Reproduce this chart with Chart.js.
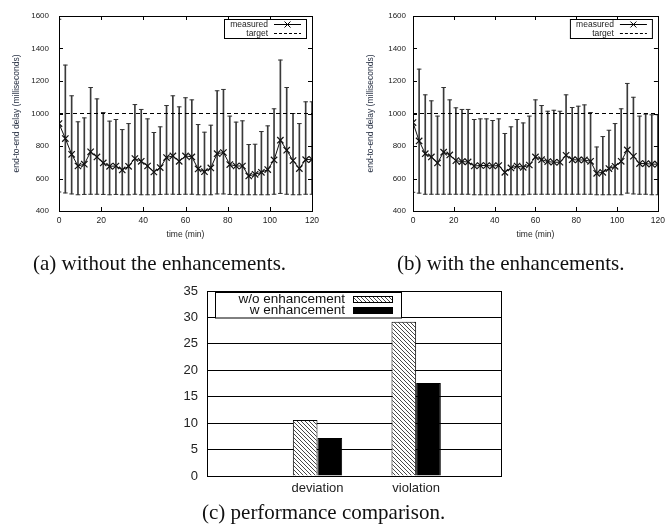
<!DOCTYPE html>
<html>
<head>
<meta charset="utf-8">
<script src="https://cdn.jsdelivr.net/npm/chart.js@4.4.1/dist/chart.umd.min.js"></script>
<style>
  html, body { margin: 0; padding: 0; background: #fff; }
  body { width: 670px; height: 529px; position: relative; overflow: hidden; }
  canvas { position: absolute; }
  .cap { position: absolute; font-family: "Liberation Serif", "Times New Roman", serif; font-size: 21px; color: #111; white-space: nowrap; line-height: 24px; }
</style>
</head>
<body>
<canvas id="chartA" width="330" height="245" style="left:0;top:0"></canvas>
<canvas id="chartB" width="335" height="245" style="left:335px;top:0"></canvas>
<canvas id="chartC" width="370" height="232" style="left:150px;top:270px"></canvas>
<div class="cap" style="left:33px;top:251px">(a) without the enhancements.</div>
<div class="cap" style="left:397px;top:251px">(b) with the enhancements.</div>
<div class="cap" style="left:202px;top:500px">(c) performance comparison.</div>
<script>
// time axis (minutes) shared by (a) and (b)
const timeMin = [0, 3, 6, 9, 12, 15, 18, 21, 24, 27, 30, 33, 36, 39, 42, 45, 48, 51, 54, 57,
  60, 63, 66, 69, 72, 75, 78, 81, 84, 87, 90, 93, 96, 99, 102, 105, 108, 111, 114, 117, 120];

// (a) without the enhancements - mean and error range (ms)
const measuredA = [938, 846, 749, 677, 688, 764, 733, 696, 675, 677, 653, 675, 723, 706, 677, 640, 667, 729, 739, 706,
  739, 733, 659, 642, 665, 753, 760, 686, 677, 677, 616, 626, 638, 655, 714, 836, 774, 710, 661, 716, 718];
const upperA = [1580, 1298, 1109, 949, 973, 1160, 1090, 1006, 953, 963, 901, 938, 1055, 1025, 967, 883, 918, 1049, 1109, 1041,
  1097, 1084, 932, 885, 928, 1140, 1148, 984, 947, 955, 809, 811, 889, 924, 1029, 1329, 1160, 1000, 938, 1072, 1072];
const lowerA = [517, 511, 505, 500, 502, 503, 503, 502, 500, 502, 500, 500, 503, 500, 500, 500, 502, 503, 503, 502,
  503, 503, 500, 500, 500, 505, 505, 502, 500, 500, 500, 500, 500, 500, 503, 508, 503, 500, 500, 503, 503];

// (b) with the enhancements
const measuredB = [944, 831, 753, 733, 696, 762, 745, 710, 704, 702, 677, 680, 680, 677, 680, 638, 665, 677, 669, 683,
  733, 716, 704, 700, 700, 743, 716, 714, 714, 706, 632, 638, 661, 675, 706, 776, 737, 692, 692, 688, 688];
const upperB = [1600, 1273, 1115, 1078, 984, 1160, 1084, 1035, 1025, 1025, 963, 967, 967, 957, 967, 877, 918, 963, 942, 984,
  1084, 1049, 1014, 1020, 1014, 1115, 1037, 1045, 1053, 1006, 794, 858, 897, 938, 1029, 1185, 1100, 984, 996, 992, 992];
const lowerB = [515, 510, 503, 503, 503, 503, 503, 503, 503, 503, 500, 500, 500, 500, 500, 500, 500, 500, 500, 503,
  503, 503, 503, 503, 503, 503, 503, 503, 503, 503, 500, 500, 500, 500, 500, 510, 505, 503, 503, 500, 500];

const targetDelay = 1000;

// (c) performance comparison
const metrics = ['deviation', 'violation'];
const woEnhancement = [10.6, 29.2];
const wEnhancement = [7.2, 17.6];

const sans = '"Liberation Sans", Arial, sans-serif';

// gnuplot-like box with inward ticks on all four sides
const gnuFrame = {
  id: 'gnuFrame',
  afterDatasetsDraw(chart, args, opts) {
    const { ctx, chartArea: a } = chart;
    ctx.save();
    ctx.strokeStyle = '#000';
    ctx.lineWidth = 1;
    ctx.strokeRect(Math.round(a.left) + 0.5, Math.round(a.top) + 0.5, Math.round(a.right - a.left), Math.round(a.bottom - a.top));
    if (opts.ticks) {
      const t = 4;
      const x = chart.scales.x, y = chart.scales.y;
      ctx.beginPath();
      x.ticks.forEach(tk => {
        const px = Math.round(x.getPixelForValue(tk.value)) + 0.5;
        ctx.moveTo(px, a.bottom); ctx.lineTo(px, a.bottom - t);
        ctx.moveTo(px, a.top); ctx.lineTo(px, a.top + t);
      });
      y.ticks.forEach(tk => {
        const py = Math.round(y.getPixelForValue(tk.value)) + 0.5;
        ctx.moveTo(a.left, py); ctx.lineTo(a.left + t, py);
        ctx.moveTo(a.right, py); ctx.lineTo(a.right - t, py);
      });
      ctx.stroke();
    }
    ctx.restore();
  }
};

// key box in the top-right corner for (a) and (b)
const delayKey = {
  id: 'delayKey',
  afterDraw(chart) {
    const { ctx, chartArea: a } = chart;
    const r = a.right, t = a.top;
    ctx.save();
    ctx.fillStyle = '#fff';
    ctx.fillRect(r - 88, t + 3, 82, 19);
    ctx.strokeStyle = '#000';
    ctx.lineWidth = 1;
    ctx.strokeRect(r - 88 + 0.5, t + 3 + 0.5, 82, 19);
    ctx.fillStyle = '#222';
    ctx.font = '8.5px ' + sans;
    ctx.textAlign = 'right';
    ctx.textBaseline = 'middle';
    ctx.fillText('measured', r - 44, t + 8.5);
    ctx.fillText('target', r - 44, t + 17.5);
    ctx.beginPath();
    ctx.moveTo(r - 38, t + 8.5); ctx.lineTo(r - 11, t + 8.5);
    const cx = r - 24.5, cy = t + 8.5;
    ctx.moveTo(cx - 3, cy - 3); ctx.lineTo(cx + 3, cy + 3);
    ctx.moveTo(cx - 3, cy + 3); ctx.lineTo(cx + 3, cy - 3);
    ctx.stroke();
    ctx.setLineDash([3, 2]);
    ctx.beginPath();
    ctx.moveTo(r - 38, t + 17.5); ctx.lineTo(r - 11, t + 17.5);
    ctx.stroke();
    ctx.restore();
  }
};

function delayChart(id, measured, upper, lower, yw, tickPad, titlePad) {
  const pts = arr => timeMin.map((tm, i) => ({ x: tm, y: arr[i] }));
  return new Chart(document.getElementById(id), {
    type: 'line',
    data: {
      datasets: [
        {
          type: 'bar',
          data: timeMin.map((tm, i) => ({ x: tm, y: [lower[i], upper[i]] })),
          backgroundColor: '#3a3a3a',
          barThickness: 1,
          order: 4
        },
        {
          data: pts(upper), showLine: false, pointStyle: 'line', pointRadius: 2.3,
          pointBorderColor: '#333', pointBorderWidth: 1, order: 3
        },
        {
          data: pts(lower), showLine: false, pointStyle: 'line', pointRadius: 2.3,
          pointBorderColor: '#333', pointBorderWidth: 1, order: 3
        },
        {
          data: [{ x: 0, y: targetDelay }, { x: 120, y: targetDelay }],
          borderColor: '#000', borderWidth: 1, borderDash: [4, 3], pointRadius: 0, order: 2
        },
        {
          data: pts(measured),
          borderColor: '#111', borderWidth: 1, tension: 0,
          pointStyle: 'crossRot', pointRadius: 4.5, pointBorderColor: '#111', pointBorderWidth: 1.2,
          order: 1
        }
      ]
    },
    options: {
      responsive: false,
      devicePixelRatio: 1,
      animation: false,
      layout: { padding: { left: 0, right: id === 'chartA' ? 18 : 5, top: 16, bottom: 0 }, autoPadding: false },
      plugins: { legend: { display: false }, tooltip: { enabled: false }, gnuFrame: { ticks: true } },
      scales: {
        x: {
          type: 'linear', min: 0, max: 120, offset: false,
          grid: { display: false, drawTicks: false, offset: false }, border: { display: false },
          ticks: { stepSize: 20, padding: 5, maxRotation: 0, color: '#222', font: { family: sans, size: 8.5 } },
          title: { display: true, text: 'time (min)', color: '#222', font: { family: sans, size: 8.5 }, padding: { top: 0, bottom: 5 } },
          afterFit: s => { s.height = 34; }
        },
        y: {
          min: 400, max: 1600,
          grid: { display: false, drawTicks: false }, border: { display: false },
          ticks: { stepSize: 200, padding: tickPad, color: '#222', font: { family: sans, size: 8 }, callback: v => String(v) },
          title: { display: true, text: 'end-to-end delay (milliseconds)', color: '#2a3346', font: { family: sans, size: 8.5 }, padding: { top: titlePad, bottom: 0 } },
          afterFit: s => { s.width = yw; }
        }
      }
    },
    plugins: [gnuFrame, delayKey]
  });
}

delayChart('chartA', measuredA, upperA, lowerA, 59, 10, 11.5);
delayChart('chartB', measuredB, upperB, lowerB, 78, 7, 31);

// hatch fill for the "w/o enhancement" bars
function hatchPattern() {
  const p = 4;
  const c = document.createElement('canvas');
  c.width = p; c.height = p;
  const g = c.getContext('2d');
  g.fillStyle = '#fff';
  g.fillRect(0, 0, p, p);
  g.strokeStyle = '#333';
  g.lineWidth = 0.9;
  g.beginPath();
  for (let k = -1; k <= 1; k++) {
    g.moveTo(k * p, 0);
    g.lineTo(k * p + p, p);
  }
  g.stroke();
  return g.createPattern(c, 'repeat');
}

// key box for (c)
const compKey = {
  id: 'compKey',
  afterDraw(chart) {
    const { ctx, chartArea: a } = chart;
    const l = a.left, t = a.top;
    ctx.save();
    ctx.fillStyle = '#fff';
    ctx.fillRect(l + 8, t + 1.5, 186, 25.5);
    ctx.strokeStyle = '#000';
    ctx.lineWidth = 1;
    ctx.strokeRect(l + 8.5, t + 1.5, 186, 25.5);
    ctx.fillStyle = '#111';
    ctx.font = '13.5px ' + sans;
    ctx.textAlign = 'right';
    ctx.textBaseline = 'middle';
    ctx.fillText('w/o enhancement', l + 138, t + 8.5);
    ctx.fillText('w enhancement', l + 138, t + 19.5);
    ctx.fillStyle = chart.data.datasets[0].backgroundColor;
    ctx.fillRect(l + 146, t + 5, 40, 7);
    ctx.strokeRect(l + 146.5, t + 5.5, 39, 6);
    ctx.fillStyle = '#000';
    ctx.fillRect(l + 146, t + 16, 40, 7);
    ctx.restore();
  }
};

new Chart(document.getElementById('chartC'), {
  type: 'bar',
  data: {
    datasets: [
      {
        label: 'w/o enhancement',
        data: metrics.map((m, i) => ({ x: i, y: woEnhancement[i] })),
        backgroundColor: hatchPattern(),
        borderColor: '#000', borderWidth: 1
      },
      {
        label: 'w enhancement',
        data: metrics.map((m, i) => ({ x: i, y: wEnhancement[i] })),
        backgroundColor: '#000',
        borderColor: '#000', borderWidth: 1
      }
    ]
  },
  options: {
    responsive: false,
    devicePixelRatio: 1,
    animation: false,
    categoryPercentage: 0.5,
    barPercentage: 1,
    layout: { padding: { left: 0, right: 19, top: 21, bottom: 0 }, autoPadding: false },
    plugins: { legend: { display: false }, tooltip: { enabled: false }, gnuFrame: { ticks: false } },
    scales: {
      x: {
        type: 'linear', min: -1.12, max: 1.86, offset: false,
        grid: { display: false, drawTicks: false }, border: { display: false },
        afterBuildTicks: s => { s.ticks = metrics.map((m, i) => ({ value: i })); },
        ticks: { padding: 5, maxRotation: 0, autoSkip: false, color: '#222', font: { family: sans, size: 13 }, callback: v => metrics[v] },
        afterFit: s => { s.height = 26; }
      },
      y: {
        min: 0, max: 35,
        grid: { color: '#000', lineWidth: 1, drawTicks: false }, border: { display: false },
        ticks: { stepSize: 5, padding: 9, color: '#222', font: { family: sans, size: 13 } },
        afterFit: s => { s.width = 57; }
      }
    }
  },
  plugins: [gnuFrame, compKey]
});
</script>
</body>
</html>
